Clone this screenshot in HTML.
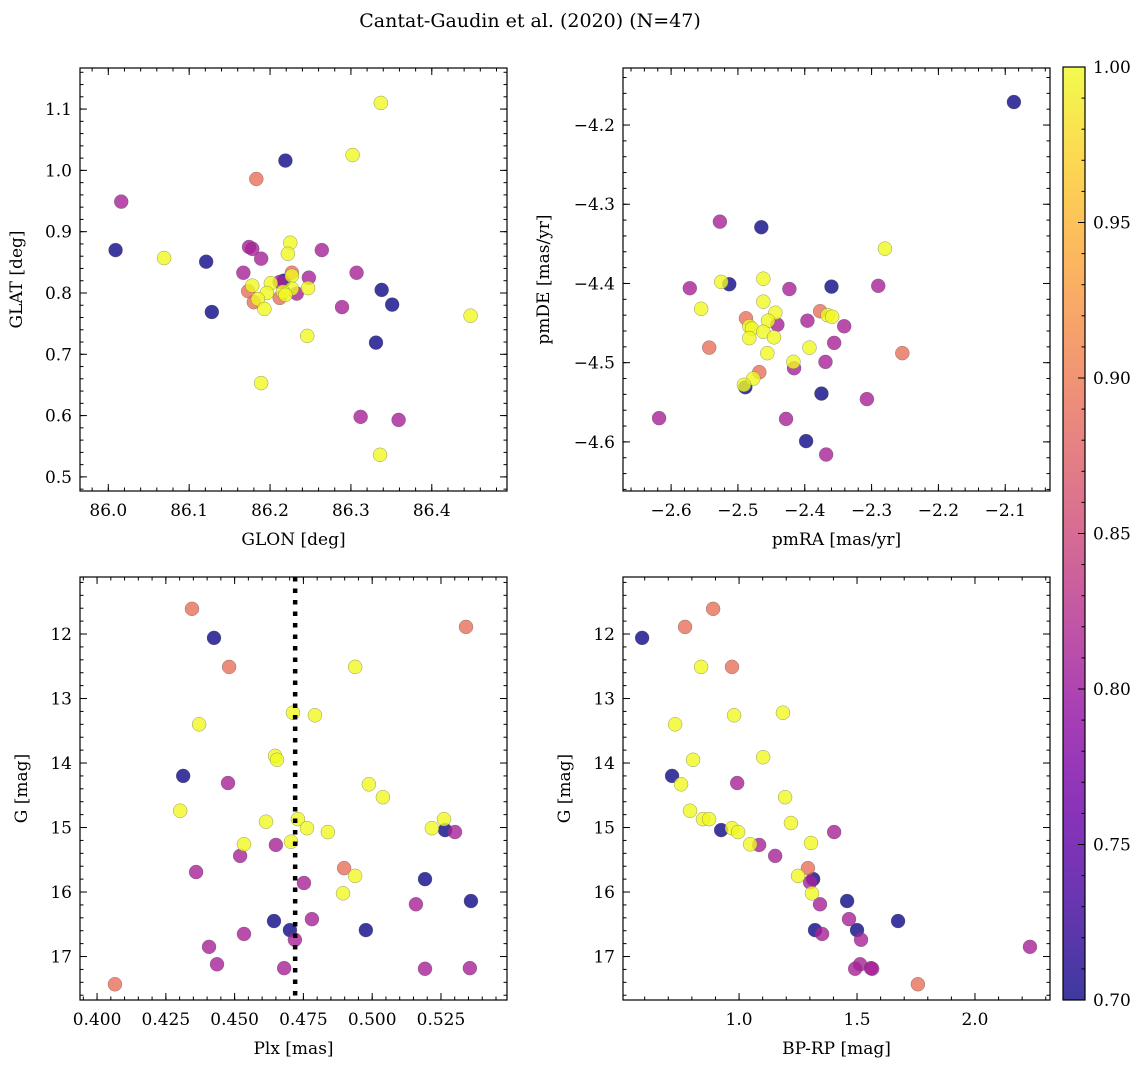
<!DOCTYPE html>
<html><head><meta charset="utf-8">
<style>
html,body{margin:0;padding:0;background:#fff;}
svg{display:block;font-family:"DejaVu Serif","Liberation Serif",serif;}
</style></head>
<body>
<svg id="fig" width="1148" height="1067" viewBox="0 0 1148 1067" xmlns="http://www.w3.org/2000/svg">
<text x="530" y="27" font-size="19" text-anchor="middle">Cantat-Gaudin et al. (2020) (N=47)</text>
</svg>
<script>
// ---- Panel 1: GLON vs GLAT ----
const p1_glon = [86.337,86.302,86.219,86.183,86.016,86.009,86.069,86.121,86.128,86.174,86.178,86.189,86.167,86.225,86.222,86.264,86.307,86.338,86.351,86.289,86.448,86.246,86.331,86.189,86.312,86.359,86.336,86.227,86.227,86.248,86.217,86.212,86.247,86.201,86.178,86.173,86.233,86.227,86.216,86.196,86.219,86.212,86.185,86.180,86.193];
const p1_glat = [1.110,1.025,1.016,0.986,0.949,0.870,0.857,0.851,0.769,0.875,0.872,0.856,0.833,0.882,0.864,0.870,0.833,0.805,0.781,0.777,0.763,0.730,0.719,0.653,0.598,0.593,0.536,0.833,0.828,0.825,0.820,0.818,0.808,0.816,0.812,0.803,0.799,0.807,0.802,0.800,0.797,0.792,0.790,0.785,0.774];
const p1_prob = "YYNSPNYNNPPPPYYPPNNPYYNYPPYSYPNPYYYSPYYYYSYSY";
const p1_xticks = [86.0,86.1,86.2,86.3,86.4];
const p1_yticks = [0.5,0.6,0.7,0.8,0.9,1.0,1.1];

// ---- Panel 2: pmRA vs pmDE ----
const p2_pmra = [-2.527,-2.465,-2.280,-2.572,-2.513,-2.525,-2.462,-2.423,-2.360,-2.290,-2.555,-2.462,-2.488,-2.444,-2.455,-2.441,-2.483,-2.479,-2.462,-2.483,-2.446,-2.377,-2.366,-2.359,-2.396,-2.341,-2.356,-2.543,-2.456,-2.393,-2.254,-2.417,-2.416,-2.369,-2.468,-2.477,-2.489,-2.491,-2.375,-2.307,-2.618,-2.428,-2.398,-2.368,-2.087];
const p2_pmde = [-4.322,-4.329,-4.356,-4.406,-4.401,-4.398,-4.394,-4.407,-4.404,-4.403,-4.432,-4.423,-4.444,-4.437,-4.447,-4.452,-4.454,-4.457,-4.461,-4.469,-4.468,-4.435,-4.440,-4.442,-4.447,-4.454,-4.475,-4.481,-4.488,-4.481,-4.488,-4.499,-4.507,-4.499,-4.512,-4.520,-4.531,-4.528,-4.539,-4.546,-4.570,-4.571,-4.599,-4.616,-4.171];
const p2_prob = "PNYPNYYPNPYYSYYPYYYYYSYYPPPSYYSYPPSYNYNPPPNPN";
const p2_xticks = [-2.6,-2.5,-2.4,-2.3,-2.2,-2.1];
const p2_yticks = [-4.6,-4.5,-4.4,-4.3,-4.2];

// ---- Panel 3: Plx vs G ----
const p3_plx = [0.4345,0.5341,0.4425,0.448,0.4938,0.4712,0.4792,0.4371,0.4647,0.4654,0.4313,0.4476,0.4988,0.5039,0.4302,0.4730,0.4614,0.5261,0.4763,0.5217,0.5265,0.5301,0.4839,0.4534,0.4650,0.4705,0.4520,0.4898,0.4360,0.4938,0.4752,0.5192,0.4894,0.5159,0.5359,0.4781,0.4643,0.4977,0.4701,0.4534,0.4719,0.4407,0.4436,0.4680,0.5192,0.5355,0.4065];
const p3_g = [11.61,11.89,12.06,12.51,12.51,13.22,13.26,13.40,13.89,13.95,14.20,14.31,14.33,14.53,14.74,14.87,14.91,14.87,15.01,15.01,15.04,15.07,15.07,15.26,15.27,15.22,15.44,15.63,15.69,15.75,15.86,15.80,16.02,16.19,16.14,16.42,16.45,16.59,16.59,16.65,16.74,16.85,17.12,17.18,17.19,17.18,17.43];
const p3_prob = "SSNSYYYYYYNPYYYYYYYYNPYYPYPSPYPNYPNPNNNPPPPPPPS";
const p3_xticks = [0.400,0.425,0.450,0.475,0.500,0.525];
const p3_yticks = [12,13,14,15,16,17];
const p3_meanPlx = [0.472];

// ---- Panel 4: BP-RP vs G ----
const p4_bprp = [0.890,0.771,0.589,0.839,0.970,1.186,0.979,0.729,1.102,0.805,0.716,0.992,0.754,1.195,0.792,0.847,0.873,0.924,0.970,0.996,1.220,1.403,1.047,1.085,1.305,1.153,1.292,1.250,1.314,1.301,1.309,1.343,1.458,1.466,1.674,1.500,1.322,1.352,1.517,2.233,1.513,1.492,1.559,1.564,1.758];
const p4_g = [11.61,11.89,12.06,12.51,12.51,13.22,13.26,13.40,13.91,13.95,14.20,14.31,14.33,14.53,14.74,14.87,14.87,15.04,15.01,15.07,14.93,15.07,15.26,15.27,15.24,15.44,15.63,15.75,15.80,15.85,16.02,16.19,16.14,16.42,16.45,16.59,16.59,16.65,16.74,16.85,17.12,17.19,17.18,17.19,17.43];
const p4_prob = "SSNYSYYYYYNPYYYYYNYYYPYPYPSYNPYPNPNNNPPPPPPPS";
const p4_xticks = [1.0,1.5,2.0];
const p4_yticks = [12,13,14,15,16,17];

// ---- Colorbar ----
const cb_ticks = [0.70,0.75,0.80,0.85,0.90,0.95,1.00];
const probLevels = {N:0.70, P:0.81, S:0.89, Y:1.00};

const NS = "http://www.w3.org/2000/svg";
const svg = document.getElementById('fig');
function mk(tag, attrs, parent){
  const e = document.createElementNS(NS, tag);
  for (const k in attrs) e.setAttribute(k, attrs[k]);
  (parent||svg).appendChild(e);
  return e;
}
const plasmaStops = ["#0d0887","#41049d","#6a00a8","#8f0da4","#b12a90","#cc4778","#e16462","#f2844b","#fca636","#fcce25","#f0f921"];
function hex2rgb(h){return [parseInt(h.substr(1,2),16),parseInt(h.substr(3,2),16),parseInt(h.substr(5,2),16)];}
function plasma(t){
  t=Math.max(0,Math.min(1,t));
  const f=t*10, i=Math.min(9,Math.floor(f)), r=f-i;
  const a=hex2rgb(plasmaStops[i]), b=hex2rgb(plasmaStops[i+1]);
  return "rgb("+a.map((v,k)=>Math.round(v+(b[k]-v)*r)).join(",")+")";
}
const vmin=0.70, vmax=1.00;
function fmtMinus(s){return s.replace("-","\u2212");}

function panel(cfg){
  const {L,T,W,H,xlim,ylim,invY,xticks,yticks,xminor,yminor,xfmt,yfmt,xlabel,ylabel,ylabelX,name} = cfg;
  const sx = v => L + (v - xlim[0])/(xlim[1]-xlim[0])*W;
  const sy = invY ? (v => T + (v - ylim[0])/(ylim[1]-ylim[0])*H)
                  : (v => T + H - (v - ylim[0])/(ylim[1]-ylim[0])*H);
  const g = mk('g',{});
  
  
  const clipId = name+'-clip';
  const cp = mk('clipPath',{id:clipId},g);
  mk('rect',{x:L,y:T,width:W,height:H},cp);
  const pts = mk('g',{'clip-path':'url(#'+clipId+')'},g);
  
  
  const idx = cfg.xs.map((_,i)=>i).sort((a,b)=>probLevels[cfg.codes[a]]-probLevels[cfg.codes[b]] || a-b);
  idx.forEach(i=>{
    const p = probLevels[cfg.codes[i]];
    const c = mk('circle',{cx:sx(cfg.xs[i]).toFixed(2),cy:sy(cfg.ys[i]).toFixed(2),r:7,fill:plasma((p-vmin)/(vmax-vmin)),'fill-opacity':0.8,stroke:'#555','stroke-opacity':0.6,'stroke-width':0.5},pts);
    
    
  });
  if (cfg.vline){
    cfg.vline.forEach(v=>{
      const ln = mk('line',{x1:sx(v),x2:sx(v),y1:T,y2:T+H,stroke:'#000','stroke-width':4.5,'stroke-dasharray':'4.5 7'},g);
      
      
    });
  }
  const fr = mk('rect',{x:L,y:T,width:W,height:H,fill:'none',stroke:'#000','stroke-width':1.2},g);
  
  
  const tk = mk('g',{stroke:'#000','stroke-width':1},g);
  const eps=1e-9;
  for (let v=Math.ceil(xlim[0]/xminor-eps)*xminor; v<=xlim[1]+eps; v+=xminor){
    const x=sx(v); if(x<L||x>L+W) continue;
    mk('line',{x1:x,x2:x,y1:T+H,y2:T+H-3.5},tk); mk('line',{x1:x,x2:x,y1:T,y2:T+3.5},tk);
  }
  const ylo=Math.min(ylim[0],ylim[1]), yhi=Math.max(ylim[0],ylim[1]);
  for (let v=Math.ceil(ylo/yminor-eps)*yminor; v<=yhi+eps; v+=yminor){
    const y=sy(v); if(y<T||y>T+H) continue;
    mk('line',{x1:L,x2:L+3.5,y1:y,y2:y},tk); mk('line',{x1:L+W,x2:L+W-3.5,y1:y,y2:y},tk);
  }
  xticks.forEach(v=>{
    const x=sx(v);
    mk('line',{x1:x,x2:x,y1:T+H,y2:T+H-7},tk); mk('line',{x1:x,x2:x,y1:T,y2:T+7},tk);
    const t=mk('text',{x:x,y:T+H+25,'font-size':17,'text-anchor':'middle'},g);
    t.textContent=xfmt(v);
    
    
  });
  yticks.forEach(v=>{
    const y=sy(v);
    mk('line',{x1:L,x2:L+7,y1:y,y2:y},tk); mk('line',{x1:L+W,x2:L+W-7,y1:y,y2:y},tk);
    const t=mk('text',{x:L-8,y:y+6,'font-size':17,'text-anchor':'end'},g);
    t.textContent=yfmt(v);
    
    
  });
  const xl=mk('text',{x:L+W/2,y:T+H+54,'font-size':17,'text-anchor':'middle'},g);
  xl.textContent=xlabel;
  
  
  const cy=T+H/2;
  const yl=mk('text',{x:ylabelX,y:cy,'font-size':17,'text-anchor':'middle',transform:'rotate(-90 '+ylabelX+' '+cy+')'},g);
  yl.textContent=ylabel;
  
  
}

panel({name:'glon-glat-panel',L:80,T:68,W:427,H:423,xlim:[85.965,86.493],ylim:[0.477,1.167],invY:false,
  xticks:p1_xticks,yticks:p1_yticks,xminor:0.02,yminor:0.02,xfmt:v=>v.toFixed(1),yfmt:v=>v.toFixed(1),
  xlabel:'GLON [deg]',ylabel:'GLAT [deg]',ylabelX:22,xs:p1_glon,ys:p1_glat,codes:p1_prob});
panel({name:'pm-panel',L:623,T:68,W:427,H:423,xlim:[-2.672,-2.033],ylim:[-4.662,-4.128],invY:false,
  xticks:p2_xticks,yticks:p2_yticks,xminor:0.02,yminor:0.02,xfmt:v=>fmtMinus(v.toFixed(1)),yfmt:v=>fmtMinus(v.toFixed(1)),
  xlabel:'pmRA [mas/yr]',ylabel:'pmDE [mas/yr]',ylabelX:549,xs:p2_pmra,ys:p2_pmde,codes:p2_prob});
panel({name:'plx-g-panel',L:80,T:577,W:427,H:423,xlim:[0.3938,0.549],ylim:[11.116,17.674],invY:true,
  xticks:p3_xticks,yticks:p3_yticks,xminor:0.005,yminor:0.2,xfmt:v=>v.toFixed(3),yfmt:v=>String(v),
  xlabel:'Plx [mas]',ylabel:'G [mag]',ylabelX:27,xs:p3_plx,ys:p3_g,codes:p3_prob,vline:p3_meanPlx});
panel({name:'cmd-panel',L:623,T:577,W:427,H:423,xlim:[0.508,2.318],ylim:[11.116,17.674],invY:true,
  xticks:p4_xticks,yticks:p4_yticks,xminor:0.1,yminor:0.2,xfmt:v=>v.toFixed(1),yfmt:v=>String(v),
  xlabel:'BP-RP [mag]',ylabel:'G [mag]',ylabelX:570,xs:p4_bprp,ys:p4_g,codes:p4_prob});

(function(){
  const L=1063,T=67,W=22,H=933;
  const defs=mk('defs',{});
  const lg=mk('linearGradient',{id:'cbgrad',x1:0,y1:1,x2:0,y2:0},defs);
  plasmaStops.forEach((c,i)=>mk('stop',{offset:(i/10),'stop-color':c,'stop-opacity':0.8},lg));
  const g=mk('g',{});
  
  
  mk('rect',{x:L,y:T,width:W,height:H,fill:'url(#cbgrad)'},g);
  mk('rect',{x:L,y:T,width:W,height:H,fill:'none',stroke:'#000','stroke-width':1.2},g);
  const sy=v=>T+H-(v-vmin)/(vmax-vmin)*H;
  for(let k=0;k<=30;k++){
    const v=vmin+k*0.01, y=sy(v);
    if(k%5) mk('line',{x1:L+W,x2:L+W-3.5,y1:y,y2:y,stroke:'#000','stroke-width':1},g);
  }
  cb_ticks.forEach(v=>{
    const y=sy(v);
    mk('line',{x1:L+W,x2:L+W-7,y1:y,y2:y,stroke:'#000','stroke-width':1},g);
    const t=mk('text',{x:L+W+8,y:y+6,'font-size':17},g);
    t.textContent=v.toFixed(2);
    
    
  });
})();
</script>
</body></html>
